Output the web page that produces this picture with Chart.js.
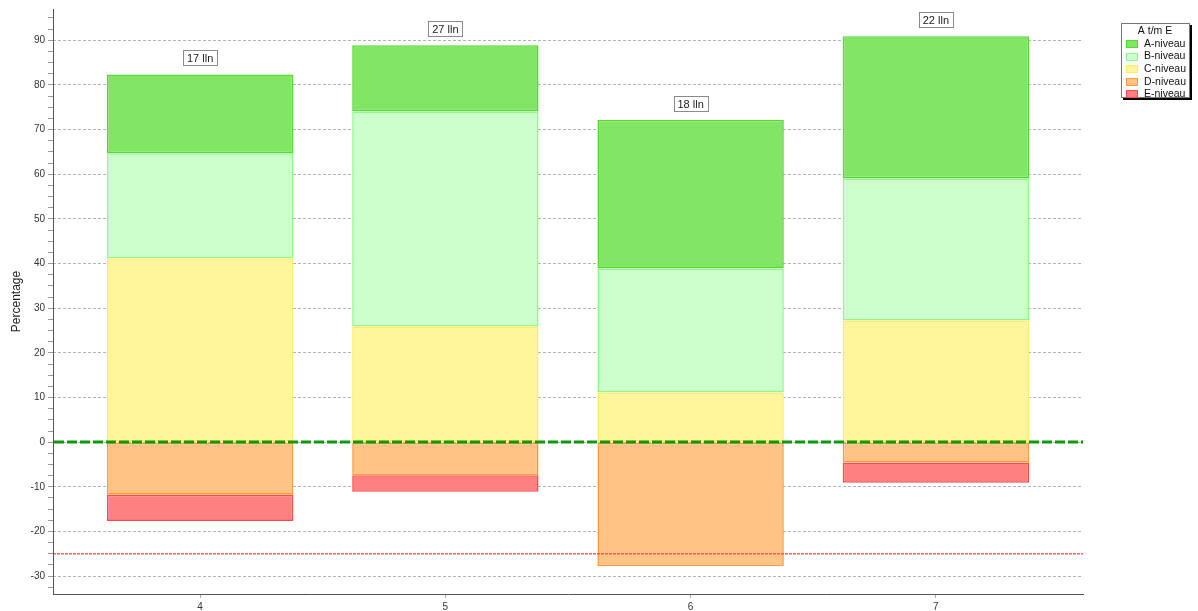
<!DOCTYPE html>
<html><head><meta charset="utf-8">
<script src="https://cdn.jsdelivr.net/npm/chart.js@4/dist/chart.umd.min.js"></script>
<style>html,body{margin:0;padding:0;background:#fff}#wrap{width:1198px;height:611px;position:relative}</style>
</head><body><div id="wrap"><canvas id="c"></canvas></div>
<script>
// ---- data ----
const categories = [4, 5, 6, 7];
const studentCounts = [17, 27, 18, 22];
const countSuffix = 'lln';
const levelA = [17.65, 14.81, 33.33, 31.82];
const levelB = [23.53, 48.15, 27.78, 31.82];
const levelC = [41.18, 25.93, 11.11, 27.27];
const levelD = [-11.76, -7.41, -27.78, -4.55];
const levelE = [-5.88, -3.70, null, -4.55];
const levelNames = ['A-niveau', 'B-niveau', 'C-niveau', 'D-niveau', 'E-niveau'];
const legendTitle = 'A t/m E';
const yTitle = 'Percentage';
const yMajorTicks = [-30, -20, -10, 0, 10, 20, 30, 40, 50, 60, 70, 80, 90];
const yMinorStep = 2.5;
const zeroLineValue = 0;
const lowerLimitValue = -25;

// ---- styles ----
const fills   = ['#82e664', '#ccffcc', '#fff59b', '#ffc386', '#ff8080'];
const borders = ['#55d934', '#8cfb8c', '#ffec66', '#ff9a3c', '#ff4a4a'];
const stackOrder = [2, 1, 0, 0, 1]; // C,B,A upward; D,E downward
const seriesValues = [levelA, levelB, levelC, levelD, levelE];

const datasets = levelNames.map((name, i) => ({
  label: name,
  data: categories.map((c, j) => ({ x: c, y: seriesValues[i][j] })),
  backgroundColor: fills[i],
  borderColor: borders[i],
  borderWidth: 1.6,
  borderSkipped: false,
  order: stackOrder[i],
  barPercentage: 0.95,
  categoryPercentage: 0.8
}));

Chart.defaults.font.family = '"Liberation Sans", Arial, sans-serif';
Chart.defaults.font.size = 10;
Chart.defaults.color = '#333';

const overlayPlugin = {
  id: 'overlay',
  afterDatasetsDraw(chart) {
    const { ctx, chartArea, scales: { x, y } } = chart;
    ctx.save();
    // lower limit line
    const yr = y.getPixelForValue(lowerLimitValue);
    ctx.strokeStyle = 'rgba(255,70,70,0.85)';
    ctx.lineWidth = 1.5;
    ctx.setLineDash([3, 1]);
    ctx.beginPath(); ctx.moveTo(chartArea.left, yr); ctx.lineTo(chartArea.right, yr); ctx.stroke();
    // zero line
    const yz = Math.round(y.getPixelForValue(zeroLineValue));
    ctx.strokeStyle = '#0a9a0a';
    ctx.lineWidth = 3;
    ctx.setLineDash([10, 3]);
    ctx.beginPath(); ctx.moveTo(chartArea.left + 1, yz); ctx.lineTo(chartArea.right, yz); ctx.stroke();
    ctx.setLineDash([]);
    // solid y axis line
    ctx.strokeStyle = '#555';
    ctx.lineWidth = 1;
    const ax = Math.round(chartArea.left) + 0.5;
    ctx.beginPath(); ctx.moveTo(ax, chartArea.top); ctx.lineTo(ax, chartArea.bottom); ctx.stroke();
    // count labels
    ctx.font = '11px "Liberation Sans", Arial, sans-serif';
    ctx.textAlign = 'center';
    ctx.textBaseline = 'middle';
    categories.forEach((c, j) => {
      let top = 0;
      seriesValues.forEach(s => { if (s[j] > 0) top += s[j]; });
      const px = x.getPixelForValue(c);
      const py = y.getPixelForValue(top);
      const txt = studentCounts[j] + ' ' + countSuffix;
      const w = Math.round(ctx.measureText(txt).width + 8);
      const h = 15;
      const bx = Math.round(px - w / 2) + 0.5;
      const by = Math.round(py - 9 - h) + 0.5;
      ctx.fillStyle = '#fff';
      ctx.fillRect(bx, by, w, h);
      ctx.strokeStyle = '#8a8a8a';
      ctx.lineWidth = 1;
      ctx.strokeRect(bx, by, w, h);
      ctx.fillStyle = '#222';
      ctx.fillText(txt, px, by + h / 2 + 0.5);
    });
    ctx.restore();
  },
  afterDraw(chart) {
    const { ctx } = chart;
    const L = 1121, T = 23, W = 69, H = 75;
    ctx.save();
    ctx.fillStyle = '#000';
    ctx.fillRect(L + 2, T + 2, W, H);
    ctx.fillStyle = '#fff';
    ctx.fillRect(L, T, W, H);
    ctx.strokeStyle = '#777';
    ctx.lineWidth = 1;
    ctx.strokeRect(L + 0.5, T + 0.5, W - 1, H - 1);
    ctx.font = '10.5px "Liberation Sans", Arial, sans-serif';
    ctx.textBaseline = 'middle';
    ctx.fillStyle = '#111';
    ctx.textAlign = 'center';
    ctx.fillText(legendTitle, L + 34, T + 8.5);
    ctx.textAlign = 'left';
    chart.data.datasets.forEach((ds, i) => {
      const cy = T + 21 + i * 12.6;
      ctx.fillStyle = ds.backgroundColor;
      ctx.fillRect(L + 5, Math.round(cy - 4), 12, 8);
      ctx.strokeStyle = ds.borderColor;
      ctx.strokeRect(L + 5.5, Math.round(cy - 4) + 0.5, 11, 7);
      ctx.fillStyle = '#111';
      ctx.fillText(ds.label, L + 23, cy);
    });
    ctx.restore();
  }
};

new Chart(document.getElementById('c'), {
  type: 'bar',
  data: { datasets },
  options: {
    responsive: true,
    maintainAspectRatio: false,
    animation: false,
    layout: { padding: { left: 0, top: 3, right: 115, bottom: 0 } },
    plugins: { legend: { display: false }, tooltip: { enabled: false } },
    scales: {
      x: {
        type: 'linear',
        stacked: true,
        min: categories[0] - 0.6,
        max: categories[categories.length - 1] + 0.6,
        offset: false,
        afterBuildTicks: s => { s.ticks = categories.map(v => ({ value: v })); },
        afterFit: s => { s.height = 17; },
        ticks: { padding: 3, color: '#333', font: { size: 10 }, callback: v => String(v) },
        grid: { drawOnChartArea: false, offset: false, tickLength: 4, tickColor: '#aaa' },
        border: { color: '#555', width: 1 }
      },
      y: {
        stacked: true,
        min: -34,
        max: 97,
        afterBuildTicks: s => {
          const t = [];
          for (let v = yMajorTicks[0] - yMinorStep; v <= yMajorTicks[yMajorTicks.length - 1] + 2 * yMinorStep; v += yMinorStep) t.push({ value: v });
          s.ticks = t;
        },
        afterFit: s => { s.width = 53; },
        title: { display: true, text: yTitle, color: '#222', font: { size: 12 }, padding: { top: 9, bottom: 0 } },
        ticks: {
          autoSkip: false, padding: 3, color: '#333', font: { size: 10 },
          callback: v => (yMajorTicks.includes(v) ? String(v) : '')
        },
        grid: {
          color: c => (c.tick && yMajorTicks.includes(c.tick.value) ? '#b4b4b4' : 'rgba(0,0,0,0)'),
          tickLength: 5, tickColor: '#999', lineWidth: 1
        },
        border: { display: false, dash: [3, 2] }
      }
    }
  },
  plugins: [overlayPlugin]
});
</script>
</body></html>
